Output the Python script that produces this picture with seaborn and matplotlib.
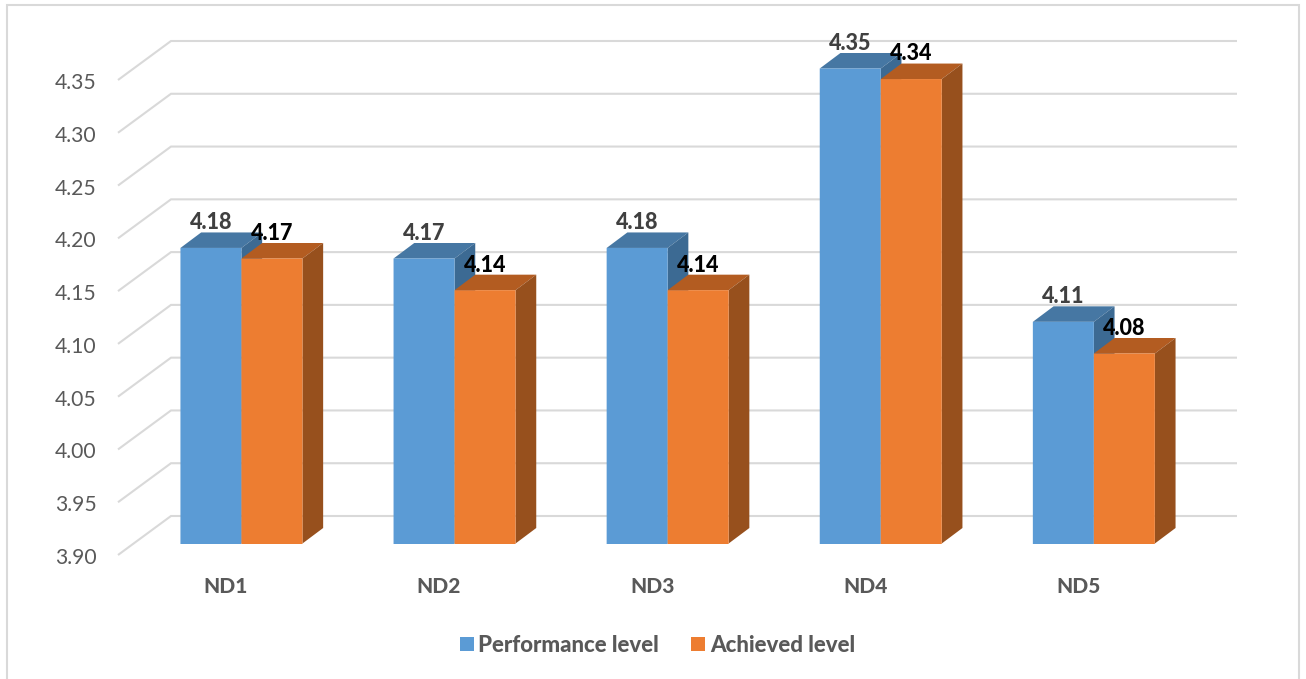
import matplotlib
matplotlib.use("Agg")
import matplotlib.pyplot as plt
from matplotlib.patches import Polygon, Rectangle
from matplotlib.transforms import Affine2D
import numpy as np
import pandas as pd
import seaborn as sns

categories = ["ND1", "ND2", "ND3", "ND4", "ND5"]
performance_level = [4.18, 4.17, 4.18, 4.35, 4.11]
achieved_level = [4.17, 4.14, 4.14, 4.34, 4.08]
y_ticks = [3.90, 3.95, 4.00, 4.05, 4.10, 4.15, 4.20, 4.25, 4.30, 4.35]

series_names = ["Performance level", "Achieved level"]
FRONT_COLORS = ["#5B9BD5", "#ED7D31"]
TOP_COLORS = ["#4677A3", "#B35C21"]
SIDE_COLORS = ["#3C6A93", "#97501D"]
GRID_COLOR = "#D9D9D9"
TEXT_COLOR = "#595959"
LABEL_COLORS = ["#404040", "#000000"]

W, H = 1306, 679
PX_PER_CAT = 213.1
PX_PER_UNIT = 475 / 0.45
Y_FLOOR = 3.90
HEAVY = 900

df = pd.DataFrame({
    "criterion": categories * 2,
    "level": performance_level + achieved_level,
    "series": [series_names[0]] * 5 + [series_names[1]] * 5,
})

sns.set_theme(style="white")
plt.rcParams["font.family"] = ["Lato", "DejaVu Sans"]

fig = plt.figure(figsize=(W / 100, H / 100), dpi=100)
left_px, right_px = 134.9, 134.9 + 5 * PX_PER_CAT
bottom_px, top_px = 543.5, 30.0
ax = fig.add_axes([left_px / W, 1 - bottom_px / H,
                   (right_px - left_px) / W, (bottom_px - top_px) / H])
ax.patch.set_alpha(0)

sns.barplot(data=df, x="criterion", y="level", hue="series", hue_order=series_names,
            palette=FRONT_COLORS, saturation=1, width=122 / PX_PER_CAT, gap=0,
            errorbar=None, linewidth=0, ax=ax)
ax.set_ylim(Y_FLOOR, Y_FLOOR + (bottom_px - top_px) / PX_PER_UNIT)
ax.set_xlim(-0.5, 4.5)
ax.set_xlabel("")
ax.set_ylabel("")
sns.despine(ax=ax, left=True, bottom=True)


def dx(px):
    return px / PX_PER_CAT


def dy(px):
    return px / PX_PER_UNIT


# Back wall and left wall gridlines of the pseudo-3D box
wall_x0, wall_x1 = -0.5 + dx(171 - left_px), -0.5 + dx(1237 - left_px)
edge_x = -0.5 + dx(118 - left_px)
for v in y_ticks:
    ax.plot([edge_x, wall_x0, wall_x1],
            [v - dy(11.5), v + dy(27.5), v + dy(27.5)],
            color=GRID_COLOR, lw=1.5, zorder=0.5, clip_on=False,
            solid_joinstyle="miter", solid_capstyle="butt")

# Extrude every bar with a top face and a side face
depth_x, depth_y = dx(20.7), dy(15.5)
for s, container in enumerate(ax.containers):
    for i, bar in enumerate(container):
        bar.set_snap(False)
        x0, x1 = bar.get_x(), bar.get_x() + bar.get_width()
        top = bar.get_height()
        z = 0.6 + 0.02 * i + 0.005 * s
        ax.add_patch(Polygon([(x0, top), (x1, top),
                              (x1 + depth_x, top + depth_y), (x0 + depth_x, top + depth_y)],
                             closed=True, fc=TOP_COLORS[s], ec="none", zorder=z))
        ax.add_patch(Polygon([(x1, top), (x1 + depth_x, top + depth_y),
                              (x1 + depth_x, Y_FLOOR + depth_y), (x1, Y_FLOOR)],
                             closed=True, fc=SIDE_COLORS[s], ec="none", zorder=z))
    ax.bar_label(container, fmt="%.2f", padding=10.5, fontsize=15.5, fontweight=HEAVY,
                 color=LABEL_COLORS[s], zorder=5, clip_on=False)

# Tick labels sit on the front plane of the box
ax.set_yticks(y_ticks, [f"{v:.2f}" for v in y_ticks])
ax.tick_params(axis="y", length=0, pad=27.4, labelsize=15.2, labelcolor=TEXT_COLOR)
for lbl in ax.get_yticklabels():
    lbl.set_transform(lbl.get_transform() + Affine2D().translate(0, -12.5))
ax.tick_params(axis="x", length=0, pad=24, labelsize=15, labelcolor=TEXT_COLOR)
for lbl in ax.get_xticklabels():
    lbl.set_fontweight(HEAVY)
    lbl.set_transform(lbl.get_transform() + Affine2D().translate(-15.5, 0))

sns.move_legend(ax, loc="center", bbox_to_anchor=(657.5 / W, 1 - 645.5 / H),
                bbox_transform=fig.transFigure, ncol=2, frameon=False, title=None,
                handlelength=0.625, handleheight=0.625, handletextpad=0.2,
                columnspacing=1.45, borderpad=0, borderaxespad=0,
                prop={"size": 16, "weight": HEAVY}, labelcolor=TEXT_COLOR)

# Chart-area border, open along the bottom edge
fig.add_artist(Rectangle((7 / W, -0.02), (1299 - 7) / W, 1.02 - 4.5 / H,
                         transform=fig.transFigure, fill=False,
                         ec=GRID_COLOR, lw=1.5))

fig.savefig("out.png", dpi=100, facecolor="white")
